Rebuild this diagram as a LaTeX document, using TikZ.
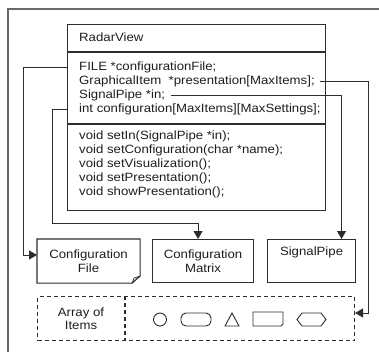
\documentclass[tikz,border=0pt]{standalone}
\usepackage{fontspec}
\setmainfont{Liberation Sans}[FakeStretch=1.1]
\usetikzlibrary{arrows.meta}

\definecolor{ink}{RGB}{45,45,45}
\definecolor{txt}{RGB}{30,30,30}
\definecolor{frame}{RGB}{105,105,105}

\tikzset{
  member/.style={anchor=west, inner sep=0pt, text=txt, font=\fontsize{12}{14}\selectfont},
  boxline/.style={draw=ink, line width=1.1pt},
  conn/.style={draw=ink, line width=0.9pt},
  tip/.style={-{Triangle[length=8pt,width=9pt]}},
  unit/.style={boxline, minimum width=#1, minimum height=43pt, inner sep=0pt,
    align=center, text=txt, font=\fontsize{12}{14}\selectfont},
  itemshape/.style={draw=ink, line width=0.9pt},
  dashbox/.style={draw=ink, line width=1.1pt, dash pattern=on 4pt off 3pt}
}

\begin{document}
\begin{tikzpicture}[x=1pt,y=-1pt]
\useasboundingbox (0,0) rectangle (379,352);

% outer frame, cut by the page edge
\draw[frame, line width=1.4pt] (379,9) -- (8,9) -- (8,352);

% class box with its three compartments
\node[boxline, minimum width=258pt, minimum height=186pt, inner sep=0pt, anchor=north west] (cls) at (67,24) {};
\draw[boxline] (67,52) -- (325,52);
\draw[boxline] (67,124) -- (325,124);

\node[member] (title) at (79,37) {RadarView};
\node[member] (a1) at (79,67) {FILE *configurationFile;};
\node[member] (a2) at (79,81) {GraphicalItem\ \ *presentation[MaxItems];};
\node[member] (a3) at (79,95) {SignalPipe *in;};
\node[member] (a4) at (79,109) {int configuration[MaxItems][MaxSettings];};
\node[member] (m1) at (79,136) {void setIn(SignalPipe *in);};
\node[member] (m2) at (79,150) {void setConfiguration(char *name);};
\node[member] (m3) at (79,164) {void setVisualization();};
\node[member] (m4) at (79,178) {void setPresentation();};
\node[member] (m5) at (79,192) {void showPresentation();};

% target boxes
\node[unit=102pt, draw=none, anchor=north west] (cfile) at (37,239) {Configuration\\File};
\draw[boxline] (cfile.north west) -- (cfile.north east) -- ([yshift=7pt]cfile.south east)
  -- ([xshift=-8pt]cfile.south east) -- (cfile.south west) -- cycle;
\draw[ink, line width=0.8pt] ([xshift=-8pt]cfile.south east) -- ([xshift=-6pt,yshift=5pt]cfile.south east)
  -- ([yshift=7pt]cfile.south east);

\node[unit=101pt, anchor=north west] (cmat) at (152,239) {Configuration\\Matrix};
\node[unit=88pt, anchor=north west, text depth=20pt] (sp) at (267,239) {SignalPipe};

% array of graphical items
\node[dashbox, minimum width=317pt, minimum height=44pt, inner sep=0pt, anchor=north west] (arr) at (37,296) {};
\draw[dashbox] (125,296) -- (125,340);
\node[align=center, inner sep=0pt, text=txt, font=\fontsize{12}{13.5}\selectfont] (arrlbl) at (81,318.5) {Array of\\Items};

\draw[itemshape] (160,319.5) circle (6.5);
\draw[itemshape, rounded corners=5pt] (181,313) rectangle (211,326);
\draw[itemshape] (225,326) -- (232,313) -- (239,326) -- cycle;
\draw[itemshape] (253,312) -- (283,312) -- (283,324) -- (281,326) -- (253,326) -- cycle;
\draw[itemshape] (297,319.5) -- (302,313) -- (321,313) -- (326,319.5) -- (321,326) -- (302,326) -- cycle;

% connectors
\coordinate (k1) at (23,255);
\draw[conn, tip] (a1 -| cls.west) -| (k1) -- (k1 -| cfile.west);

\coordinate (k2) at (52,223);
\draw[conn, tip] (a4 -| cls.west) -| (k2) -| ([xshift=-5pt]cmat.north);

\draw[conn, tip] ([xshift=6pt]a3.east) -| ([xshift=30pt]sp.north);

\coordinate (k4) at (368,313);
\draw[conn, tip] ([xshift=5pt]a2.east) -| (k4) -- (k4 -| arr.east);
\end{tikzpicture}
\end{document}
